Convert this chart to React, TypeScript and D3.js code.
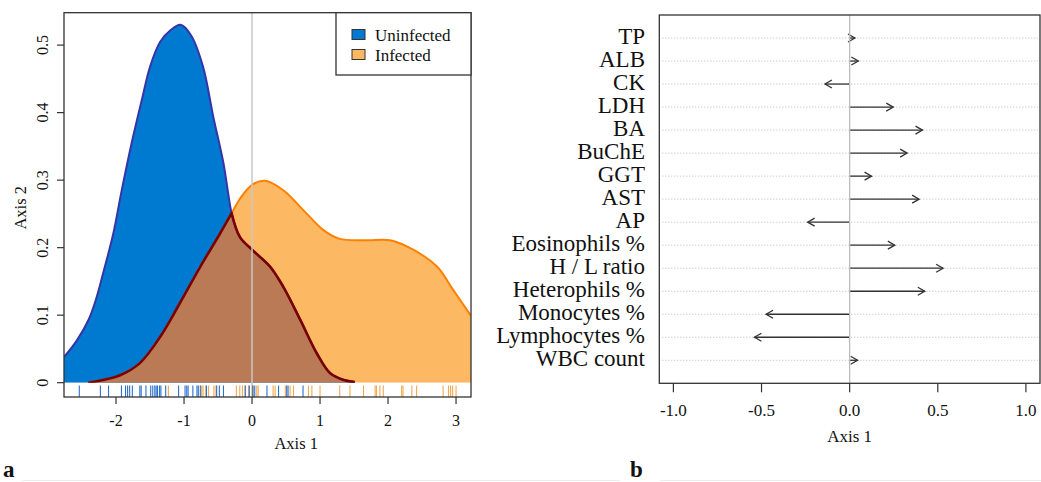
import React from "react";
import * as d3 from "d3";

// density curves: [axis 1, density]
const uninfectedCurve: [number, number][] = [
  [-2.765, 0.038], [-2.58, 0.062], [-2.4, 0.094], [-2.29, 0.125], [-2.19, 0.162],
  [-2.04, 0.221], [-1.92, 0.283], [-1.77, 0.355], [-1.62, 0.419], [-1.5, 0.468],
  [-1.35, 0.505], [-1.2, 0.522], [-1.05, 0.53], [-0.9, 0.515], [-0.72, 0.468],
  [-0.57, 0.394], [-0.42, 0.325], [-0.35, 0.28], [-0.3, 0.251], [-0.18, 0.216],
  [0, 0.197], [0.265, 0.172], [0.46, 0.142], [0.71, 0.093], [0.95, 0.044],
  [1.15, 0.014], [1.35, 0.004], [1.51, 0.001],
];

const infectedCurve: [number, number][] = [
  [-2.41, 0], [-2.19, 0.004], [-1.94, 0.011], [-1.65, 0.029], [-1.35, 0.068],
  [-1.06, 0.118], [-0.76, 0.172], [-0.47, 0.221], [-0.3, 0.251], [-0.18, 0.272],
  [0, 0.293], [0.19, 0.299], [0.46, 0.285], [0.75, 0.256], [1.05, 0.226],
  [1.29, 0.213], [1.69, 0.211], [2.03, 0.211], [2.37, 0.197], [2.72, 0.172],
  [2.96, 0.137], [3.22, 0.099],
];

const crossX = -0.3;

const uninfectedRug = [
  -2.54, -2.23, -2.11, -1.92, -1.86, -1.83, -1.8, -1.76, -1.65, -1.63, -1.56,
  -1.49, -1.46, -1.43, -1.41, -1.39, -1.36, -1.34, -1.27, -1.08, -0.985, -0.96,
  -0.94, -0.87, -0.81, -0.79, -0.76, -0.67, -0.52, -0.48, -0.42, -0.1, -0.04,
  0.01, 0.04, 0.22, 0.39, 0.51, 0.53, 0.75,
];

const infectedRug = [
  -1.23, -0.74, -0.72, -0.68, -0.64, -0.56, -0.53, -0.23, -0.18, -0.14, -0.1,
  -0.05, 0.02, 0.07, 0.09, 0.31, 0.34, 0.49, 0.56, 0.61, 0.83, 0.88, 1.0, 1.29,
  1.44, 1.64, 1.81, 1.83, 1.88, 1.93, 2.2, 2.22, 2.35, 2.42, 2.81, 2.89, 2.92,
  2.95, 3.0,
];

const yTicksA = [0, 0.1, 0.2, 0.3, 0.4, 0.5];
const xTicksA = [-2, -1, 0, 1, 2, 3];
const legendItems = ["Uninfected", "Infected"];

const variables = [
  "TP", "ALB", "CK", "LDH", "BA", "BuChE", "GGT", "AST", "AP",
  "Eosinophils %", "H / L ratio", "Heterophils %", "Monocytes %",
  "Lymphocytes %", "WBC count",
];
const loadings = [
  0.03, 0.049, -0.14, 0.247, 0.413, 0.326, 0.124, 0.394, -0.238,
  0.256, 0.53, 0.426, -0.474, -0.54, 0.045,
];
const xTicksB = [-1, -0.5, 0, 0.5, 1];

const FONT = "'Liberation Serif', 'DejaVu Serif', serif";
const BLUE = "#0079d1";
const BLUE_LINE = "#3535a8";
const ORANGE = "#fdb863";
const ORANGE_LINE = "#ff8000";
const BROWN = "#b97a55";
const BROWN_LINE = "#7a0000";

export default function App() {
  // panel a
  const A = { left: 64, right: 471, top: 12.7, bottom: 397 };
  const xA = d3.scaleLinear().domain([-2.765, 3.22]).range([A.left, A.right]);
  const yA = d3.scaleLinear().domain([-0.0212, 0.548]).range([A.bottom, A.top]);
  const y0 = yA(0);

  const curve = d3.curveCatmullRom.alpha(0.5);
  const line = d3
    .line<[number, number]>()
    .x((d) => xA(d[0]))
    .y((d) => yA(d[1]))
    .curve(curve);
  const area = d3
    .area<[number, number]>()
    .x((d) => xA(d[0]))
    .y0(y0)
    .y1((d) => yA(d[1]))
    .curve(curve);

  // overlap = infected left tail + uninfected right tail
  const ovLeft = infectedCurve.filter((d) => d[0] <= crossX);
  const ovRight = uninfectedCurve.filter((d) => d[0] >= crossX);
  const ovLine = line(ovLeft)! + line(ovRight)!.replace(/^M/, "L");
  const ovArea =
    ovLine +
    `L${xA(ovRight[ovRight.length - 1][0])},${y0}L${xA(ovLeft[0][0])},${y0}Z`;

  // panel b
  const B = { left: 659.3, right: 1040, top: 15, bottom: 383.3 };
  const xB = d3.scaleLinear().domain([-1.08, 1.08]).range([B.left, B.right]);
  const yB = d3.scaleLinear().domain([0, 16]).range([B.bottom, B.top]);
  const headLen = 8;
  const headAng = Math.PI / 6;

  return (
    <svg
      width={1041}
      height={482}
      style={{ position: "absolute", left: 0, top: 0, display: "block", background: "#fff" }}
      fontFamily={FONT}
    >
      <defs>
        <clipPath id="clipA">
          <rect x={A.left} y={A.top} width={A.right - A.left} height={y0 - A.top} />
        </clipPath>
        <clipPath id="clipRug">
          <rect x={A.left} y={A.top} width={A.right - A.left} height={A.bottom - A.top} />
        </clipPath>
      </defs>

      {/* ---------- panel a ---------- */}
      <g clipPath="url(#clipA)">
        <path d={area(infectedCurve)!} fill={ORANGE} />
        <path d={area(uninfectedCurve)!} fill={BLUE} />
        <path d={ovArea} fill={BROWN} />
        <path d={line(infectedCurve)!} fill="none" stroke={ORANGE_LINE} strokeWidth={2} />
        <path d={line(uninfectedCurve)!} fill="none" stroke={BLUE_LINE} strokeWidth={2} />
        <path d={ovLine} fill="none" stroke={BROWN_LINE} strokeWidth={2.6} strokeLinejoin="round" />
      </g>
      <g clipPath="url(#clipRug)">
        <line x1={xA(0)} x2={xA(0)} y1={A.top} y2={A.bottom} stroke="#c8c8c8" strokeWidth={1.5} />
        {infectedRug.map((v, i) => (
          <line key={"ir" + i} x1={xA(v)} x2={xA(v)} y1={A.bottom} y2={A.bottom - 11.5}
            stroke="#f0a040" strokeWidth={1.1} opacity={0.9} />
        ))}
        {uninfectedRug.map((v, i) => (
          <line key={"ur" + i} x1={xA(v)} x2={xA(v)} y1={A.bottom} y2={A.bottom - 11.5}
            stroke="#1563c8" strokeWidth={1.1} opacity={0.9} />
        ))}
      </g>
      <rect x={A.left} y={A.top} width={A.right - A.left} height={A.bottom - A.top}
        fill="none" stroke="#333" strokeWidth={1.3} />

      {yTicksA.map((t) => (
        <g key={"ya" + t}>
          <line x1={A.left - 7} x2={A.left} y1={yA(t)} y2={yA(t)} stroke="#333" strokeWidth={1.2} />
          <text transform={`translate(48,${yA(t)}) rotate(-90)`} textAnchor="middle" fontSize={16} fill="#111">
            {t === 0 ? "0" : t.toFixed(1)}
          </text>
        </g>
      ))}
      {xTicksA.map((t) => (
        <g key={"xa" + t}>
          <line x1={xA(t)} x2={xA(t)} y1={A.bottom} y2={A.bottom + 7} stroke="#333" strokeWidth={1.2} />
          <text x={xA(t)} y={426} textAnchor="middle" fontSize={16} fill="#111">
            {t}
          </text>
        </g>
      ))}
      <text x={xA(0.65)} y={449} textAnchor="middle" fontSize={16.5} fill="#111">Axis 1</text>
      <text transform={`translate(26,${(A.top + A.bottom) / 2 + 3}) rotate(-90)`} textAnchor="middle" fontSize={16.5} fill="#111">
        Axis 2
      </text>

      {/* legend */}
      <rect x={336} y={A.top} width={A.right - 336} height={75 - A.top} fill="#fff" stroke="#333" strokeWidth={1.3} />
      {legendItems.map((name, i) => (
        <g key={name}>
          <rect x={352} y={29.5 + i * 20} width={13} height={10}
            fill={i === 0 ? BLUE : ORANGE} stroke="#333" strokeWidth={1} />
          <text x={375} y={40.5 + i * 20} fontSize={17} fill="#111">{name}</text>
        </g>
      ))}

      <text x={3} y={477} fontSize={23} fontWeight="bold" fill="#111">a</text>

      {/* ---------- panel b ---------- */}
      {variables.map((name, i) => {
        const y = yB(15 - i);
        const x0 = xB(0);
        const x1 = xB(loadings[i]);
        const dir = loadings[i] >= 0 ? 1 : -1;
        const hx = x1 - dir * headLen * Math.cos(headAng);
        const hy = headLen * Math.sin(headAng);
        return (
          <g key={name}>
            <line x1={B.left + 3} x2={B.right - 2} y1={y} y2={y}
              stroke="#b0b0b0" strokeWidth={0.9} strokeDasharray="1,2" />
            <line x1={x0} x2={x1} y1={y} y2={y} stroke="#333" strokeWidth={1.3} />
            <path d={`M${hx},${y - hy}L${x1},${y}L${hx},${y + hy}`} fill="none" stroke="#333" strokeWidth={1.3} />
            <text x={645} y={y + 5.5} textAnchor="end" fontSize={23} fill="#111">{name}</text>
          </g>
        );
      })}
      <line x1={xB(0)} x2={xB(0)} y1={B.top} y2={B.bottom} stroke="#bdbdbd" strokeWidth={1.3} />
      <rect x={B.left} y={B.top} width={B.right - B.left} height={B.bottom - B.top}
        fill="none" stroke="#333" strokeWidth={1.3} />
      {xTicksB.map((t) => (
        <g key={"xb" + t}>
          <line x1={xB(t)} x2={xB(t)} y1={B.bottom} y2={B.bottom + 9} stroke="#333" strokeWidth={1.2} />
          <text x={xB(t)} y={416} textAnchor="middle" fontSize={17} fill="#111">
            {t.toFixed(1)}
          </text>
        </g>
      ))}
      <text x={xB(0)} y={442} textAnchor="middle" fontSize={17} fill="#111">Axis 1</text>

      <text x={630} y={477} fontSize={23} fontWeight="bold" fill="#111">b</text>

      <line x1={22} x2={620} y1={480.5} y2={480.5} stroke="#ededed" strokeWidth={1} />
      <line x1={660} x2={1041} y1={480.5} y2={480.5} stroke="#ededed" strokeWidth={1} />
    </svg>
  );
}
